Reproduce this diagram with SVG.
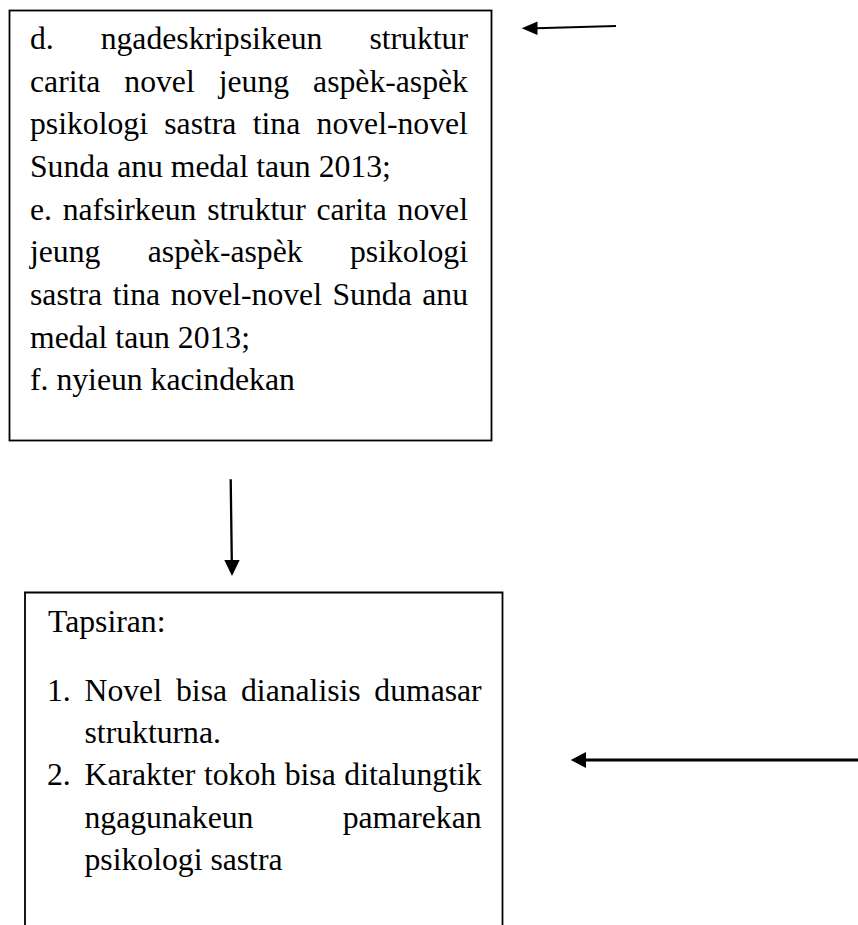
<svg xmlns="http://www.w3.org/2000/svg" width="858" height="925" viewBox="0 0 858 925">
<style>
  .box{fill:none;stroke:#000;stroke-width:1.8}
  .t{font-family:"Liberation Serif","Times New Roman",serif;font-size:31.7px;fill:#000}
  .ln{stroke:#000;fill:none}
  .head{fill:#000;stroke:none}
</style>
<rect width="858" height="925" fill="#fff"/>
<g id="node-top">
  <rect class="box" x="9.5" y="10.5" width="482" height="430"/>
  <text class="t" y="49"><tspan x="30">d.</tspan><tspan x="100.65">ngadeskripsikeun</tspan><tspan x="369.4">struktur</tspan></text>
  <text class="t" y="91.7"><tspan x="30">carita</tspan><tspan x="124.34">novel</tspan><tspan x="218.71">jeung</tspan><tspan x="313.08">aspèk-aspèk</tspan></text>
  <text class="t" y="134.3"><tspan x="30">psikologi</tspan><tspan x="164.29">sastra</tspan><tspan x="252.74">tina</tspan><tspan x="316.57">novel-novel</tspan></text>
  <text class="t" x="30" y="177">Sunda anu medal taun 2013;</text>
  <text class="t" y="219.7"><tspan x="30">e.</tspan><tspan x="62.68">nafsirkeun</tspan><tspan x="207.17">struktur</tspan><tspan x="316.47">carita</tspan><tspan x="397.56">novel</tspan></text>
  <text class="t" y="262.3"><tspan x="30">jeung</tspan><tspan x="147.76">aspèk-aspèk</tspan><tspan x="349.98">psikologi</tspan></text>
  <text class="t" y="305"><tspan x="30">sastra</tspan><tspan x="112.63">tina</tspan><tspan x="170.63">novel-novel</tspan><tspan x="332.51">Sunda</tspan><tspan x="422.23">anu</tspan></text>
  <text class="t" x="30" y="347.7">medal taun 2013;</text>
  <text class="t" x="30" y="390.3">f. nyieun kacindekan</text>
</g>
<g id="node-bottom">
  <path class="box" d="M25,926 V592.5 H502.5 V926"/>
  <text class="t" x="48" y="631.7">Tapsiran:</text>
  <text class="t" y="700.5"><tspan x="47">1.</tspan><tspan x="84.5">Novel</tspan><tspan x="176">bisa</tspan><tspan x="241">dianalisis</tspan><tspan x="374.3">dumasar</tspan></text>
  <text class="t" x="84.5" y="742.9">strukturna.</text>
  <text class="t" y="785.3"><tspan x="47">2.</tspan><tspan x="84.5">Karakter</tspan><tspan x="203.94">tokoh</tspan><tspan x="284.7">bisa</tspan><tspan x="344.31">ditalungtik</tspan></text>
  <text class="t" y="827.7"><tspan x="84.5">ngagunakeun</tspan><tspan x="342.63">pamarekan</tspan></text>
  <text class="t" x="84.5" y="870">psikologi sastra</text>
</g>
<g id="connectors">
  <line class="ln" x1="616" y1="26" x2="536" y2="28.3" stroke-width="2"/>
  <polygon class="head" points="521.7,28.3 537.5,21.6 537.5,35"/>
  <line class="ln" x1="230.7" y1="479.3" x2="231.8" y2="561" stroke-width="2.3"/>
  <polygon class="head" points="232,576 224.3,560 239.7,560"/>
  <line class="ln" x1="858" y1="760" x2="585" y2="760" stroke-width="3"/>
  <polygon class="head" points="570.7,760 586,752 586,768"/>
</g>
</svg>
